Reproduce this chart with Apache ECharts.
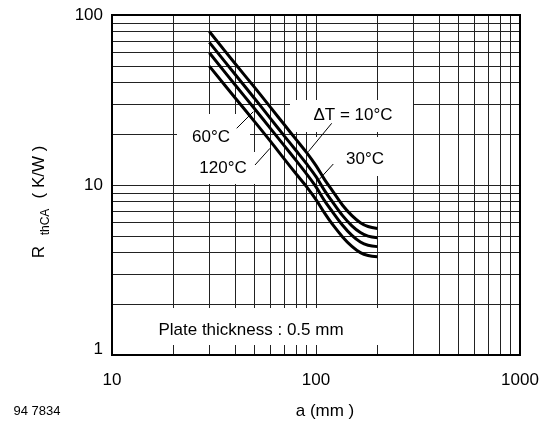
<!DOCTYPE html>
<html><head><meta charset="utf-8">
<script src="https://cdn.jsdelivr.net/npm/echarts@6/dist/echarts.min.js"></script>
<style>html,body{margin:0;padding:0;background:#fff}#c{width:544px;height:428px}</style>
</head><body><div id="c"></div>
<script>
// ---- data ----
const xTicks = [10, 100, 1000];
const yTicks = [1, 10, 100];
const xGrid = [20, 30, 40, 50, 60, 70, 80, 90, 100, 200, 300, 400, 500, 600, 700, 800, 900];
const yGrid = [2, 3, 4, 5, 6, 7, 8, 9, 10, 20, 30, 40, 50, 60, 70, 80, 90];
const a = [30, 40, 50, 60, 70, 80, 90, 100, 110, 120, 135, 150, 165, 180, 200];
const dT10  = [80, 52, 37.5, 28.5, 22.6, 18.5, 15.5, 13.0, 10.8, 9.3, 7.6, 6.6, 6.0, 5.7, 5.55];
const dT30  = [69, 45, 32.3, 24.5, 19.4, 15.9, 13.3, 11.2, 9.3, 8.0, 6.6, 5.75, 5.25, 5.0, 4.9];
const dT60  = [60, 39, 28.1, 21.4, 17.0, 13.9, 11.6, 9.75, 8.1, 7.0, 5.8, 5.05, 4.62, 4.42, 4.34];
const dT120 = [50, 32.7, 23.6, 18.0, 14.2, 11.6, 9.75, 8.2, 6.85, 5.9, 4.95, 4.35, 4.0, 3.85, 3.79];
const seriesNames = ['ΔT = 10°C', '30°C', '60°C', '120°C'];

const FONT = '"Liberation Sans", Arial, sans-serif';
const chart = echarts.init(document.getElementById('c'), null, {renderer: 'canvas'});

function curve(name, vals) {
  return {
    name: name, type: 'line', z: 60, smooth: 0.35, symbol: 'none', silent: true,
    lineStyle: {color: '#000', width: 3},
    data: a.map((x, i) => [x, vals[i]])
  };
}

const gridLineStyle = {color: '#222', width: 1, type: 'solid'};
const gridSeries = {
  type: 'line', z: 1, data: [], symbol: 'none', silent: true,
  markLine: {
    z: 1, silent: true, symbol: ['none', 'none'], animation: false,
    label: {show: false}, lineStyle: gridLineStyle,
    emphasis: {disabled: true},
    data: xGrid.map(v => ({xAxis: v})).concat(yGrid.map(v => ({yAxis: v})))
  }
};

function box(x, y, w, h) {
  return {type: 'rect', z: 50, silent: true, shape: {x: x, y: y, width: w, height: h}, style: {fill: '#fff'}};
}
function txt(x, y, s, size, extra) {
  return Object.assign({type: 'text', z: 70, silent: true, x: x, y: y,
    style: {text: s, fontSize: size, fontFamily: FONT, fill: '#000', align: 'center', verticalAlign: 'middle'}}, extra || {});
}
function seg(x1, y1, x2, y2) {
  return {type: 'line', z: 70, silent: true, shape: {x1: x1, y1: y1, x2: x2, y2: y2}, style: {stroke: '#000', lineWidth: 1}};
}

chart.setOption({
  animation: false,
  grid: {left: 112, right: 24, top: 15, bottom: 73, show: true, borderColor: '#000', borderWidth: 2, backgroundColor: 'transparent', z: 80},
  xAxis: {
    type: 'log', logBase: 10, min: xTicks[0], max: xTicks[xTicks.length - 1],
    axisLine: {show: true, lineStyle: {color: '#000', width: 2}},
    axisTick: {show: false},
    splitLine: {show: false},
    axisLabel: {margin: 17, fontSize: 17, fontFamily: FONT, color: '#000', formatter: v => String(v)}
  },
  yAxis: {
    type: 'log', logBase: 10, min: yTicks[0], max: yTicks[yTicks.length - 1],
    axisLine: {show: true, lineStyle: {color: '#000', width: 2}},
    axisTick: {show: false},
    splitLine: {show: false},
    axisLabel: {margin: 9, fontSize: 17, fontFamily: FONT, color: '#000',
      formatter: v => (v === yTicks[0] ? '{low|' + v + '}' : String(v)),
      rich: {low: {fontSize: 17, fontFamily: FONT, color: '#000', padding: [0, 0, 12, 0]}}}
  },
  series: [gridSeries,
    curve(seriesNames[0], dT10), curve(seriesNames[1], dT30),
    curve(seriesNames[2], dT60), curve(seriesNames[3], dT120)],
  graphic: {
    elements: [
      box(290, 100, 123, 32),
      box(313, 137, 79, 39),
      box(177, 114, 73, 38),
      box(182, 152, 84, 32),
      box(114, 308, 276, 37),
      txt(353, 115, seriesNames[0], 17),
      txt(365, 159, seriesNames[1], 17),
      txt(211, 137, seriesNames[2], 17),
      txt(223, 168, seriesNames[3], 17),
      txt(251, 330, 'Plate thickness : 0.5 mm', 17),
      seg(331.7, 123.3, 308.3, 151.7),
      seg(333.3, 164, 319.3, 179.3),
      seg(236.7, 128.3, 253.3, 111.7),
      seg(255, 165, 270, 148.3),
      txt(325, 411, 'a (mm )', 17),
      txt(37, 411, '94 7834', 13),
      txt(39, 252, 'R', 17, {rotation: Math.PI / 2}),
      txt(46, 222, 'thCA', 12, {rotation: Math.PI / 2}),
      txt(39, 172, '( K/W )', 17, {rotation: Math.PI / 2})
    ]
  }
});
</script></body></html>
